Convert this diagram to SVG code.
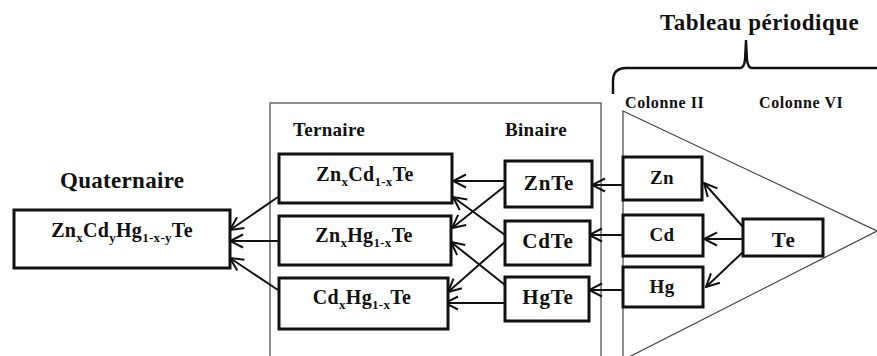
<svg xmlns="http://www.w3.org/2000/svg" width="877" height="356" viewBox="0 0 877 356">
  <style>
    .box { fill: #fff; stroke: #111; stroke-width: 3; }
    .frame { fill: none; stroke: #555; stroke-width: 1.3; }
    .thin { fill: none; stroke: #444; stroke-width: 1.2; }
    .brace { fill: none; stroke: #111; stroke-width: 2.4; }
    .link { fill: none; stroke: #111; stroke-width: 2; marker-end: url(#arr); }
    text { font-family: "Liberation Serif", "Times New Roman", serif; font-weight: bold; fill: #111; }
    .title { font-size: 23px; letter-spacing: 0.5px; }
    .quat { font-size: 23px; letter-spacing: 0.3px; }
    .head { font-size: 19px; letter-spacing: 0.3px; }
    .col { font-size: 16px; letter-spacing: 0.6px; }
    .f { font-size: 20px; letter-spacing: 0.3px; text-anchor: middle; }
    .bin { font-size: 21px; letter-spacing: 0.8px; text-anchor: middle; }
    .el { font-size: 19px; letter-spacing: 0.3px; text-anchor: middle; }
    .sub { font-size: 13px; }
  </style>
  <defs>
    <marker id="arr" viewBox="0 0 16 16" refX="15" refY="8" markerWidth="16" markerHeight="16" markerUnits="userSpaceOnUse" orient="auto">
      <path d="M2,1.5 L15,8 L2,14.5" fill="none" stroke="#111" stroke-width="2"/>
    </marker>
  </defs>

  <!-- periodic table: title, brace, column headings, triangle -->
  <g id="periodic-table">
    <text class="title" x="660" y="30">Tableau périodique</text>
    <path class="brace" d="M613,94 L613,81 Q613,68 626,68 L740,68 Q744,68 745,60 L746,40 L747,60 Q748,68 752,68 L877,68"/>
    <text class="col" x="625" y="108">Colonne II</text>
    <text class="col" x="759" y="108">Colonne VI</text>
    <path class="thin" d="M623,111 L877,231 L623,360 Z"/>
  </g>

  <!-- frame around ternary and binary compounds -->
  <rect class="frame" x="270" y="103" width="331" height="270"/>

  <!-- connectors -->
  <g id="connectors">
    <!-- Te to the column II elements -->
    <path class="link" d="M743,227 L704,183"/>
    <path class="link" d="M743,239 L704,239"/>
    <path class="link" d="M743,252 L706,287"/>
    <!-- elements to binaries -->
    <path class="link" d="M623,185 L592,185"/>
    <path class="link" d="M623,235 L589,235"/>
    <path class="link" d="M623,290 L589,290"/>
    <!-- binaries to ternaries -->
    <path class="link" d="M505,181 L453,181"/>
    <path class="link" d="M505,186 L452,228"/>
    <path class="link" d="M505,235 L453,197"/>
    <path class="link" d="M505,242 L448,292"/>
    <path class="link" d="M505,285 L451,242"/>
    <path class="link" d="M505,303 L445,303"/>
    <!-- ternaries to quaternary -->
    <path class="link" d="M278,197 L230,230"/>
    <path class="link" d="M278,241 L230,241"/>
    <path class="link" d="M278,290 L230,258"/>
  </g>

  <!-- quaternary -->
  <g id="quaternary">
    <text class="quat" x="60" y="188">Quaternaire</text>
    <rect class="box" x="14" y="210" width="216" height="58"/>
    <text class="f" x="122" y="237">Zn<tspan class="sub" dy="5">x</tspan><tspan dy="-5">Cd</tspan><tspan class="sub" dy="5">y</tspan><tspan dy="-5">Hg</tspan><tspan class="sub" dy="5">1-x-y</tspan><tspan dy="-5">Te</tspan></text>
  </g>

  <!-- ternaries -->
  <text class="head" x="293" y="136">Ternaire</text>
  <g id="ternary-zncdte">
    <rect class="box" x="279" y="154" width="173" height="49"/>
    <text class="f" x="365" y="181">Zn<tspan class="sub" dy="5">x</tspan><tspan dy="-5">Cd</tspan><tspan class="sub" dy="5">1-x</tspan><tspan dy="-5">Te</tspan></text>
  </g>
  <g id="ternary-znhgte">
    <rect class="box" x="279" y="216" width="172" height="49"/>
    <text class="f" x="364" y="242">Zn<tspan class="sub" dy="5">x</tspan><tspan dy="-5">Hg</tspan><tspan class="sub" dy="5">1-x</tspan><tspan dy="-5">Te</tspan></text>
  </g>
  <g id="ternary-cdhgte">
    <rect class="box" x="279" y="278" width="169" height="51"/>
    <text class="f" x="362" y="304">Cd<tspan class="sub" dy="5">x</tspan><tspan dy="-5">Hg</tspan><tspan class="sub" dy="5">1-x</tspan><tspan dy="-5">Te</tspan></text>
  </g>

  <!-- binaries -->
  <text class="head" x="505" y="136">Binaire</text>
  <g id="binary-znte">
    <rect class="box" x="505" y="161" width="87" height="46"/>
    <text class="bin" x="549" y="190">ZnTe</text>
  </g>
  <g id="binary-cdte">
    <rect class="box" x="505" y="221" width="85" height="44"/>
    <text class="bin" x="548" y="248">CdTe</text>
  </g>
  <g id="binary-hgte">
    <rect class="box" x="505" y="277" width="84" height="44"/>
    <text class="bin" x="548" y="304">HgTe</text>
  </g>

  <!-- elements -->
  <g id="element-zn">
    <rect class="box" x="623" y="157" width="79" height="43"/>
    <text class="el" x="662" y="184">Zn</text>
  </g>
  <g id="element-cd">
    <rect class="box" x="623" y="215" width="80" height="41"/>
    <text class="el" x="662" y="241">Cd</text>
  </g>
  <g id="element-hg">
    <rect class="box" x="623" y="267" width="80" height="40"/>
    <text class="el" x="662" y="293">Hg</text>
  </g>
  <g id="element-te">
    <rect class="box" x="743" y="219" width="80" height="37"/>
    <text class="bin" style="letter-spacing:1.5px" x="784" y="247">Te</text>
  </g>
</svg>
